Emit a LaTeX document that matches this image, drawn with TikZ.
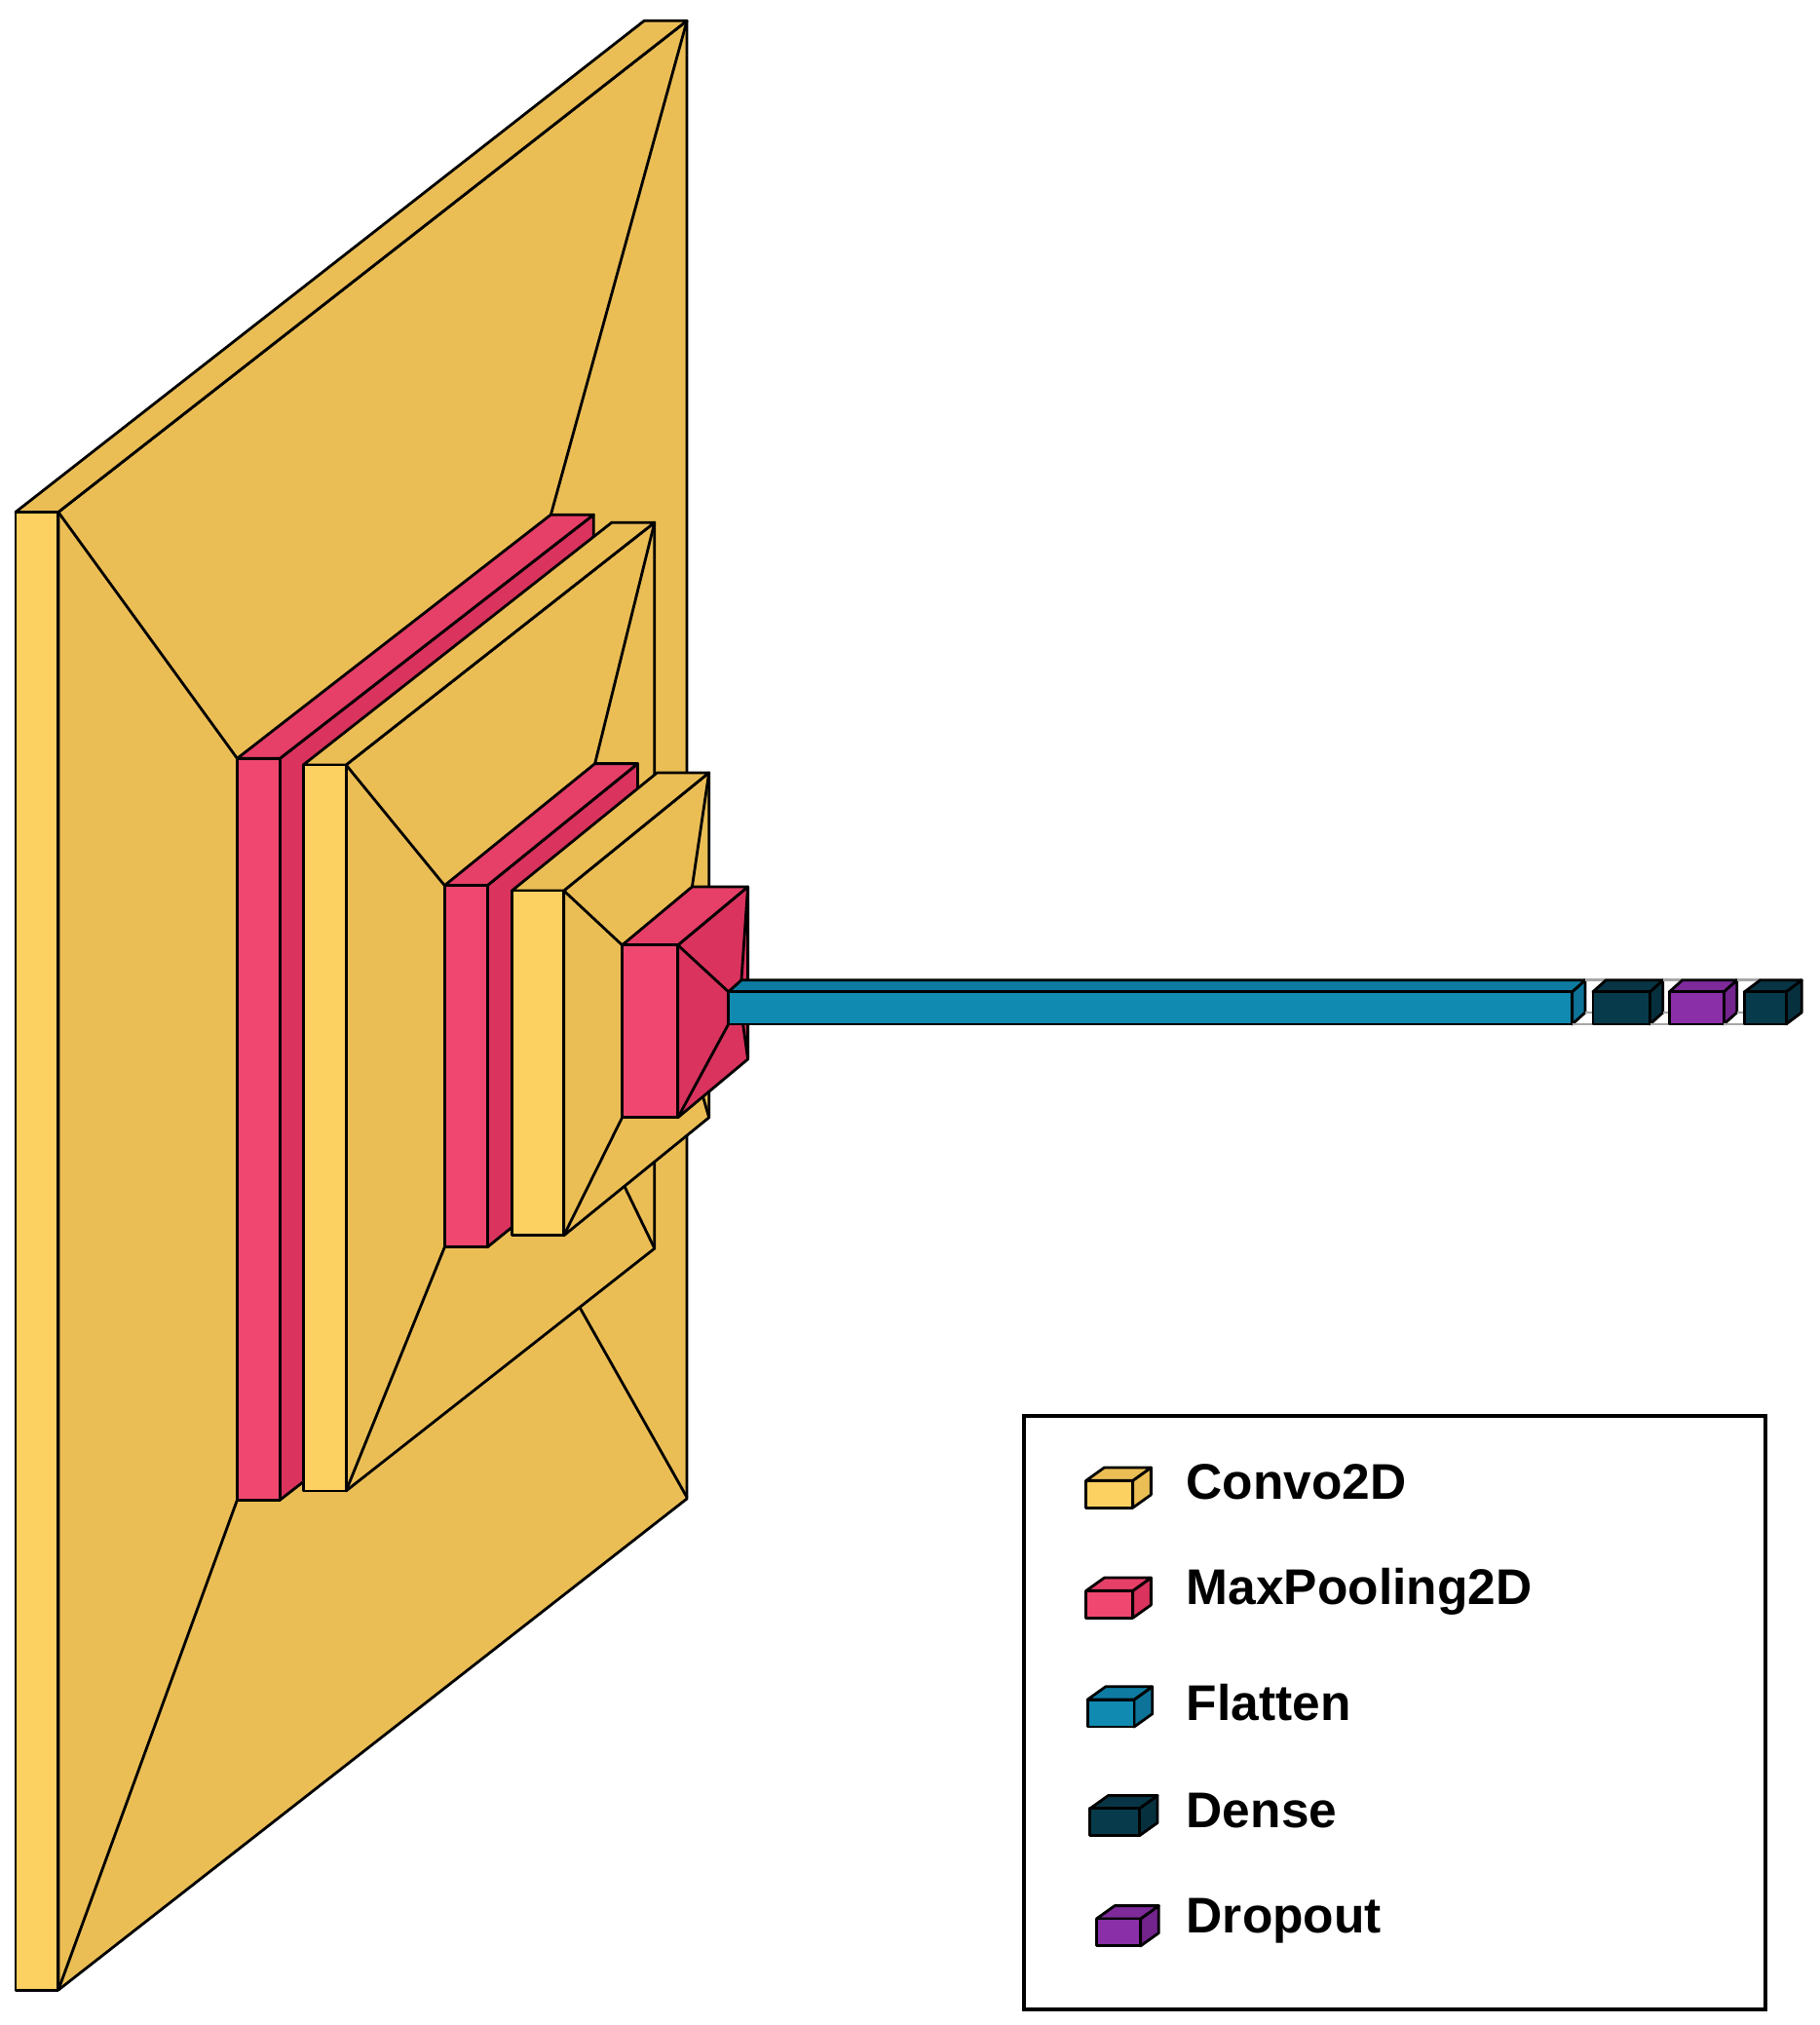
\documentclass[tikz,border=0pt]{standalone}
\usepackage{fontspec}
\setmainfont{Liberation Sans}
\begin{document}
\definecolor{cF}{HTML}{FDD062}\definecolor{cS}{HTML}{EBBE55}\definecolor{cT}{HTML}{EBBE55}
\definecolor{pF}{HTML}{EF476F}\definecolor{pS}{HTML}{D9335E}\definecolor{pT}{HTML}{E63F68}
\definecolor{fF}{HTML}{118AB2}\definecolor{fS}{HTML}{0E7398}\definecolor{fT}{HTML}{0E7CA2}
\definecolor{dF}{HTML}{073B4C}\definecolor{dS}{HTML}{06303E}\definecolor{dT}{HTML}{073545}
\definecolor{oF}{HTML}{8A2FA8}\definecolor{oS}{HTML}{73248D}\definecolor{oT}{HTML}{7E2A9A}
\newcommand\lbox[9]{%
 \filldraw[fill=#8,edge] (#1+#3,#2) -- ++(#5,#6) -- ++(0,#4) -- ++(-#5,-#6) -- cycle;
 \filldraw[fill=#9,edge] (#1,#2) -- ++(#3,0) -- ++(#5,#6) -- ++(-#3,0) -- cycle;
 \filldraw[fill=#7,edge] (#1,#2) rectangle ++(#3,#4);}
\begin{tikzpicture}[x=0.01cm,y=-0.01cm,edge/.style={draw=black,line width=0.6pt,line join=round},
 fun/.style={black,line width=0.6pt},gfun/.style={gray!70,line width=0.6pt},
 lab/.style={anchor=west,font=\fontsize{11}{13}\selectfont\bfseries}]
\useasboundingbox (0,0) rectangle (1404,1562);
\lbox{12}{395}{33}{1140}{485}{-379}{cF}{cS}{cT}
\draw[fun] (45,395)--(183,585) (530,16)--(425,397) (530,1155)--(425,969) (45,1535)--(183,1157);
\lbox{183}{585}{33}{572}{242}{-188}{pF}{pS}{pT}
\lbox{234}{590}{33}{560}{238}{-187}{cF}{cS}{cT}
\draw[fun] (267,590)--(343,683) (505,403)--(459,589) (505,963)--(459,868) (267,1150)--(343,962);
\lbox{343}{683}{33}{279}{116}{-94}{pF}{pS}{pT}
\lbox{395}{687}{40}{266}{112}{-91}{cF}{cS}{cT}
\draw[fun] (435,687)--(480,729) (547,596)--(534,684) (547,862)--(534,817) (435,953)--(480,862);
\lbox{480}{729}{43}{133}{54}{-45}{pF}{pS}{pT}
\draw[fun] (523,729)--(562,765) (577,684)--(572,756) (577,817)--(572,781) (523,862)--(562,790);
\lbox{562}{765}{651}{25}{10}{-9}{fF}{fS}{fT}
\draw[gfun] (1223,756)--(1239,756) (1223,781)--(1239,781) (1213,790)--(1229,790);
\lbox{1229}{765}{44}{25}{10}{-9}{dF}{dS}{dT}
\draw[gfun] (1283,756)--(1298,756) (1283,781)--(1298,781) (1273,790)--(1288,790);
\lbox{1288}{765}{42}{25}{10}{-9}{oF}{oS}{oT}
\draw[gfun] (1340,756)--(1358,756) (1340,781)--(1358,781) (1330,790)--(1346,790);
\lbox{1346}{765}{32}{25}{12}{-9}{dF}{dS}{dT}
% legend
\draw[line width=0.9pt] (790,1092) rectangle (1362,1550);
\lbox{838}{1142}{36}{21}{14}{-10}{cF}{cS}{cT}
\node[lab] (t1) at (903,1143) {Convo2D};
\lbox{838}{1227}{36}{21}{14}{-10}{pF}{pS}{pT}
\node[lab] (t2) at (903,1228) {MaxPooling2D};
\lbox{839}{1311}{36}{21}{14}{-10}{fF}{fS}{fT}
\node[lab] (t3) at (903,1313) {Flatten};
\lbox{841}{1395}{38}{21}{14}{-10}{dF}{dS}{dT}
\node[lab] (t4) at (903,1397) {Dense};
\lbox{846}{1480}{34}{21}{14}{-10}{oF}{oS}{oT}
\node[lab] (t5) at (903,1482) {Dropout};
\end{tikzpicture}
\end{document}
